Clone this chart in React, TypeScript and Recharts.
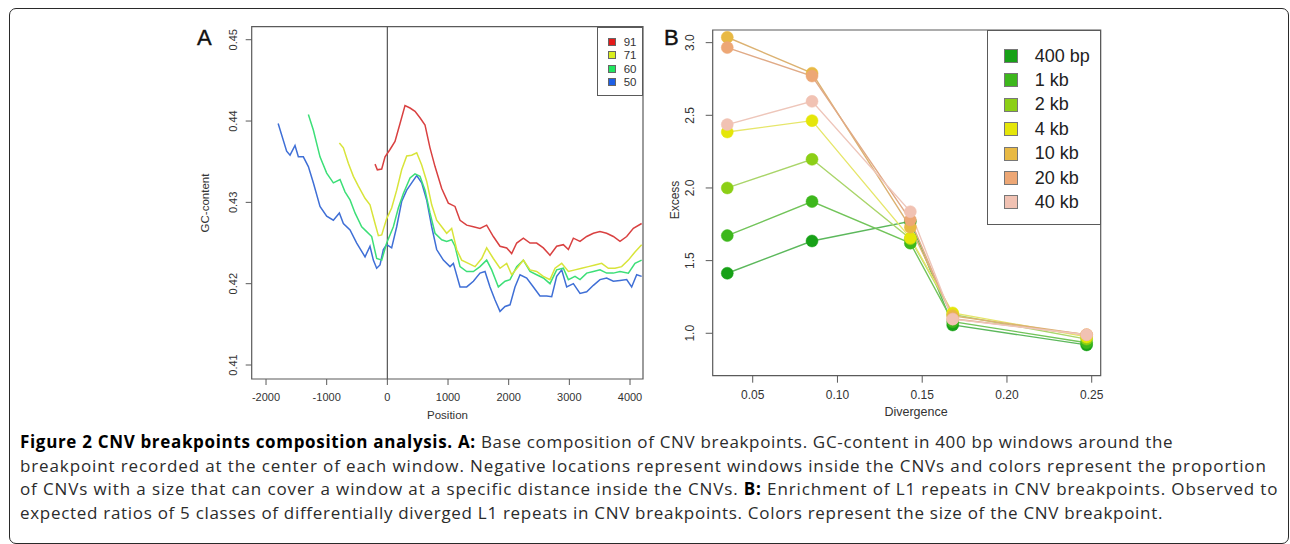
import { LineChart, Line, XAxis, YAxis, ReferenceArea, ReferenceLine } from 'recharts'

// ---- Panel A: GC-content around breakpoints ----
const posTicks = [-2000, -1000, 0, 1000, 2000, 3000, 4000]
const gcTicks = [0.41, 0.42, 0.43, 0.44, 0.45]

const gc91: [number, number][] = [
  [-203, 0.4347], [-165, 0.434], [-93, 0.4341], [-38, 0.4356], [44, 0.4365], [126, 0.4375], [209, 0.4397],
  [291, 0.4419], [374, 0.4416], [456, 0.4412], [538, 0.4404], [621, 0.4395], [703, 0.4367], [786, 0.4344],
  [896, 0.4317], [1005, 0.4299], [1115, 0.4295], [1198, 0.4278], [1308, 0.4272], [1418, 0.427], [1527, 0.4268],
  [1637, 0.4272], [1747, 0.4258], [1857, 0.4246], [1967, 0.4244], [2049, 0.4237], [2132, 0.425], [2242, 0.4256],
  [2352, 0.425], [2461, 0.425], [2571, 0.4244], [2681, 0.4235], [2791, 0.4246], [2901, 0.4248], [2984, 0.4242],
  [3066, 0.4256], [3176, 0.4252], [3286, 0.4258], [3396, 0.4262], [3505, 0.4264], [3615, 0.4262], [3725, 0.4258],
  [3835, 0.4252], [3945, 0.4258], [4055, 0.4268], [4192, 0.4274],
]

const gc71: [number, number][] = [
  [-791, 0.4373], [-725, 0.4367], [-643, 0.4348], [-560, 0.4332], [-478, 0.432], [-368, 0.4305], [-286, 0.4297],
  [-203, 0.4274], [-148, 0.4259], [-93, 0.426], [-11, 0.428], [71, 0.4293], [154, 0.4315], [236, 0.434],
  [319, 0.4357], [401, 0.4358], [484, 0.4361], [566, 0.4346], [648, 0.4326], [731, 0.4297], [813, 0.4278],
  [896, 0.427], [978, 0.4262], [1060, 0.4268], [1143, 0.4242], [1225, 0.4229], [1335, 0.4225], [1445, 0.4221],
  [1555, 0.4231], [1637, 0.4244], [1747, 0.4231], [1857, 0.4219], [1967, 0.4225], [2049, 0.4211], [2159, 0.4221],
  [2242, 0.4229], [2352, 0.4217], [2461, 0.4215], [2571, 0.4209], [2681, 0.4205], [2764, 0.4219], [2874, 0.4225],
  [2984, 0.4215], [3093, 0.4217], [3203, 0.4219], [3313, 0.4221], [3423, 0.4223], [3533, 0.4225], [3643, 0.4219],
  [3752, 0.4219], [3862, 0.4221], [3973, 0.4229], [4082, 0.4239], [4192, 0.4248],
]

const gc60: [number, number][] = [
  [-1302, 0.4408], [-1220, 0.4389], [-1110, 0.4356], [-1000, 0.4336], [-890, 0.4324], [-780, 0.4328],
  [-698, 0.4313], [-615, 0.4303], [-533, 0.4287], [-423, 0.427], [-341, 0.4264], [-258, 0.4258], [-176, 0.4231],
  [-93, 0.4229], [-11, 0.425], [99, 0.427], [181, 0.4293], [264, 0.4311], [374, 0.433], [456, 0.4335],
  [538, 0.4332], [621, 0.4315], [703, 0.4287], [786, 0.4262], [896, 0.4254], [978, 0.4252], [1060, 0.4254],
  [1115, 0.4246], [1198, 0.4221], [1308, 0.4215], [1418, 0.4215], [1527, 0.4221], [1637, 0.4229], [1720, 0.4217],
  [1830, 0.4196], [1940, 0.4203], [2022, 0.4205], [2132, 0.4221], [2242, 0.4229], [2352, 0.4215], [2461, 0.4211],
  [2571, 0.4207], [2681, 0.42], [2791, 0.4217], [2901, 0.4219], [2984, 0.4205], [3093, 0.4209], [3176, 0.4205],
  [3286, 0.4213], [3396, 0.4215], [3505, 0.4217], [3615, 0.4213], [3725, 0.4213], [3835, 0.4215], [3973, 0.4213],
  [4082, 0.4225], [4192, 0.4229],
]

const gc50: [number, number][] = [
  [-1800, 0.4397], [-1660, 0.4363], [-1604, 0.4358], [-1522, 0.437], [-1467, 0.4356], [-1385, 0.4356],
  [-1302, 0.4344], [-1220, 0.4324], [-1110, 0.4295], [-1000, 0.4283], [-890, 0.4278], [-791, 0.4287],
  [-725, 0.4274], [-615, 0.4266], [-505, 0.425], [-368, 0.4233], [-286, 0.4246], [-231, 0.4229], [-176, 0.4219],
  [-121, 0.4223], [-66, 0.4242], [-11, 0.4248], [71, 0.4244], [154, 0.427], [236, 0.4301], [319, 0.4315],
  [401, 0.4324], [484, 0.4333], [566, 0.4324], [648, 0.4303], [731, 0.427], [813, 0.4242], [923, 0.4229],
  [1033, 0.4221], [1088, 0.4225], [1198, 0.4196], [1308, 0.4196], [1418, 0.4203], [1527, 0.4213], [1610, 0.4215],
  [1692, 0.4196], [1775, 0.418], [1857, 0.4166], [1940, 0.4172], [2022, 0.4174], [2104, 0.4196], [2187, 0.4211],
  [2297, 0.4207], [2407, 0.4196], [2516, 0.4185], [2626, 0.4185], [2709, 0.4184], [2791, 0.4209], [2874, 0.4217],
  [2956, 0.4196], [3066, 0.42], [3176, 0.4188], [3286, 0.419], [3396, 0.4198], [3505, 0.4205], [3615, 0.4207],
  [3725, 0.4203], [3835, 0.4204], [3945, 0.4205], [4027, 0.4196], [4110, 0.4211], [4192, 0.4209],
]

const gcSeries = [
  { name: '91', line: '#d94141', box: '#e41a1a', points: gc91 },
  { name: '71', line: '#d8e43a', box: '#d9ee1e', points: gc71 },
  { name: '60', line: '#3ddf78', box: '#1fe65e', points: gc60 },
  { name: '50', line: '#3f6fd6', box: '#1d5fe6', points: gc50 },
]

// ---- Panel B: L1 excess by divergence ----
const divTicks = [0.05, 0.1, 0.15, 0.2, 0.25]
const excessTicks = [1.0, 1.5, 2.0, 2.5, 3.0]
const divergence = [0.035, 0.085, 0.143, 0.168, 0.247]
const excess400bp = [1.413, 1.635, 1.77, 1.057, 0.92]
const excess1kb = [1.672, 1.906, 1.62, 1.08, 0.935]
const excess2kb = [2.0, 2.197, 1.65, 1.13, 0.96]
const excess4kb = [2.385, 2.463, 1.655, 1.14, 0.975]
const excess10kb = [3.037, 2.79, 1.73, 1.12, 0.99]
const excess20kb = [2.966, 2.77, 1.78, 1.1, 0.99]
const excess40kb = [2.436, 2.596, 1.837, 1.097, 0.99]

const sizeSeries = [
  { name: '400 bp', dot: '#17a117', line: '#5cb85c', values: excess400bp },
  { name: '1 kb', dot: '#3db71c', line: '#72c45a', values: excess1kb },
  { name: '2 kb', dot: '#8ccf16', line: '#aad56a', values: excess2kb },
  { name: '4 kb', dot: '#e5e609', line: '#e6e66a', values: excess4kb },
  { name: '10 kb', dot: '#e8b944', line: '#dcb272', values: excess10kb },
  { name: '20 kb', dot: '#eda775', line: '#e0aa86', values: excess20kb },
  { name: '40 kb', dot: '#f1c2b3', line: '#eec6ba', values: excess40kb },
]

const sizeRows = divergence.map((d, i) => {
  const row: Record<string, number> = { d }
  sizeSeries.forEach((s, j) => { row['s' + j] = s.values[i] })
  return row
})

const FONT = '"Liberation Sans", Arial, sans-serif'
const AXIS = '#5a5a5a'

const RotTick = (props: any) => {
  const { x, y, payload, shift, size, digits } = props
  const tx = x - shift
  return (
    <text x={tx} y={y} transform={`rotate(-90 ${tx} ${y})`} textAnchor="middle" fontSize={size} fill="#333" fontFamily={FONT}>
      {Number(payload.value).toFixed(digits)}
    </text>
  )
}

const abs = (left: number, top: number, extra: any = {}) => ({ position: 'absolute' as const, left, top, ...extra })

const App = () => {
  return (
    <div style={{ position: 'fixed', left: 0, top: 0, width: 1290, height: 544, background: '#fff', overflow: 'hidden', fontFamily: FONT }}>
      <div style={abs(9, 8, { width: 1280, height: 536, border: '1.5px solid #2a2a2a', borderRadius: 7, boxSizing: 'border-box' })} />

      {/* Panel A */}
      <div style={abs(180, 0)}>
        <LineChart width={470} height={425} margin={{ top: 26.7, right: 7, bottom: 16, left: 31.7 }}>
          <XAxis type="number" dataKey="p" domain={[-2236, 4214]} ticks={posTicks} allowDataOverflow
            axisLine={false} tickLine={{ stroke: AXIS }} tickSize={6} tickMargin={8} height={30}
            tick={{ fontSize: 11, fill: '#333', fontFamily: FONT }} interval={0} />
          <YAxis type="number" domain={[0.40828, 0.4516]} ticks={gcTicks} allowDataOverflow
            axisLine={false} tickLine={{ stroke: AXIS }} tickSize={6} width={40} interval={0}
            tick={(p: any) => <RotTick {...p} shift={7} size={11} digits={2} />} />
          <ReferenceArea x1={-2236} x2={4214} y1={0.40828} y2={0.4516} fill="none" stroke={AXIS} strokeWidth={1.2} />
          <ReferenceLine x={0} stroke="#555" strokeWidth={1.2} />
          {[...gcSeries].reverse().map((s) => (
            <Line key={s.name} data={s.points.map(([p, v]) => ({ p, v }))} dataKey="v" type="linear"
              stroke={s.line} strokeWidth={1.5} dot={false} isAnimationActive={false} />
          ))}
        </LineChart>
      </div>
      <div style={abs(197, 25, { fontSize: 22, color: '#111', WebkitTextStroke: '0.4px #111' })}>A</div>
      <div style={abs(205, 202.5, { fontSize: 11.5, color: '#333', transform: 'translate(-50%, -50%) rotate(-90deg)', whiteSpace: 'nowrap' })}>GC-content</div>
      <div style={abs(447.5, 415, { fontSize: 11.5, color: '#333', transform: 'translate(-50%, -50%)' })}>Position</div>
      <div style={abs(596.7, 26.7, { width: 46.3, height: 69, border: `1px solid ${AXIS}`, boxSizing: 'border-box' })}>
        {gcSeries.map((s, i) => (
          <div key={s.name} style={abs(10, 8 + i * 13.6, { display: 'flex', alignItems: 'center', height: 12 })}>
            <div style={{ width: 8, height: 8, background: s.box, border: '1px solid #666', boxSizing: 'border-box' }} />
            <span style={{ marginLeft: 8, fontSize: 11.5, color: '#333' }}>{s.name}</span>
          </div>
        ))}
      </div>

      {/* Panel B */}
      <div style={abs(650, 0)}>
        <LineChart width={480} height={425} data={sizeRows} margin={{ top: 30, right: 29.3, bottom: 19.3, left: 22.7 }}>
          <XAxis type="number" dataKey="d" domain={[0.0264, 0.2553]} ticks={divTicks} allowDataOverflow
            axisLine={false} tickLine={{ stroke: AXIS }} tickSize={7} tickMargin={8} height={30} interval={0}
            tick={{ fontSize: 12, fill: '#333', fontFamily: FONT }} tickFormatter={(v: number) => v.toFixed(2)} />
          <YAxis type="number" domain={[0.708, 3.087]} ticks={excessTicks} allowDataOverflow
            axisLine={false} tickLine={{ stroke: AXIS }} tickSize={7} width={40} interval={0}
            tick={(p: any) => <RotTick {...p} shift={10} size={12} digits={1} />} />
          <ReferenceArea x1={0.0264} x2={0.2553} y1={0.708} y2={3.087} fill="none" stroke={AXIS} strokeWidth={1.2} />
          {sizeSeries.map((s, j) => (
            <Line key={s.name} dataKey={'s' + j} type="linear" stroke={s.line} strokeWidth={1.4}
              dot={{ r: 6, fill: s.dot, stroke: s.dot, strokeWidth: 0.5, fillOpacity: 1 }}
              isAnimationActive={false} />
          ))}
        </LineChart>
      </div>
      <div style={abs(664, 25, { fontSize: 22, color: '#111', WebkitTextStroke: '0.4px #111' })}>B</div>
      <div style={abs(675, 200, { fontSize: 12, color: '#333', transform: 'translate(-50%, -50%) rotate(-90deg)' })}>Excess</div>
      <div style={abs(916, 412, { fontSize: 12.5, color: '#333', transform: 'translate(-50%, -50%)' })}>Divergence</div>
      <div style={abs(987.3, 30, { width: 113.4, height: 195, border: `1px solid ${AXIS}`, boxSizing: 'border-box' })}>
        {sizeSeries.map((s, i) => (
          <div key={s.name} style={abs(15.5, 13 + i * 24.4, { display: 'flex', alignItems: 'center', height: 24 })}>
            <div style={{ width: 14, height: 14, background: s.dot, border: '1px solid #777', boxSizing: 'border-box' }} />
            <span style={{ marginLeft: 17, fontSize: 18, color: '#222' }}>{s.name}</span>
          </div>
        ))}
      </div>

      {/* Caption */}
      <div style={abs(20, 430, { fontFamily: '"Open Sans", "Noto Sans", sans-serif', fontSize: 17, lineHeight: '23.5px', color: '#2b2b2b', whiteSpace: 'nowrap' })}>
        <div style={{ letterSpacing: 0.67 }}><b style={{ color: '#000' }}>Figure 2 CNV breakpoints composition analysis.</b> <b style={{ color: '#000' }}>A:</b> Base composition of CNV breakpoints. GC-content in 400 bp windows around the</div>
        <div style={{ letterSpacing: 0.88 }}>breakpoint recorded at the center of each window. Negative locations represent windows inside the CNVs and colors represent the proportion</div>
        <div style={{ letterSpacing: 0.88 }}>of CNVs with a size that can cover a window at a specific distance inside the CNVs. <b style={{ color: '#000' }}>B:</b> Enrichment of L1 repeats in CNV breakpoints. Observed to</div>
        <div style={{ letterSpacing: 0.7 }}>expected ratios of 5 classes of differentially diverged L1 repeats in CNV breakpoints. Colors represent the size of the CNV breakpoint.</div>
      </div>
    </div>
  )
}

export default App
